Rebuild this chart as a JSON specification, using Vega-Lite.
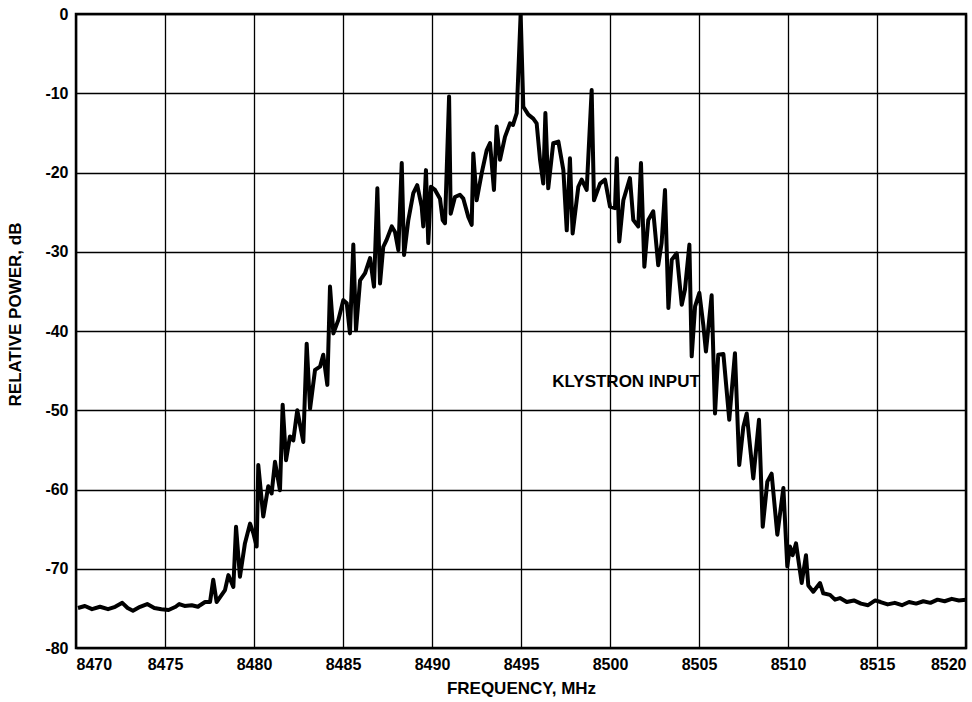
{
  "$schema": "https://vega.github.io/schema/vega-lite/v6.json",
  "width": 890,
  "height": 634,
  "autosize": {"type": "none"},
  "padding": {"left": 76, "top": 14, "right": 6, "bottom": 54},
  "background": "white",
  "config": {
    "view": {"stroke": "black", "strokeWidth": 2.5},
    "font": "Liberation Sans",
    "axis": {
      "grid": true, "gridColor": "black", "gridWidth": 1.3, "gridOpacity": 1,
      "domain": false, "ticks": false,
      "labelFont": "Liberation Sans", "labelFontSize": 16, "labelFontWeight": "bold", "labelColor": "black",
      "titleFont": "Liberation Sans", "titleFontSize": 17, "titleFontWeight": "bold", "titleColor": "black"
    }
  },
  "layer": [
    {
      "data": {"values": [
        {"f": 8470.11, "db": -74.95}, {"f": 8470.5, "db": -74.7}, {"f": 8470.9, "db": -75.1}, {"f": 8471.35, "db": -74.8},
        {"f": 8471.8, "db": -75.1}, {"f": 8472.2, "db": -74.8}, {"f": 8472.6, "db": -74.3}, {"f": 8472.9, "db": -74.95},
        {"f": 8473.2, "db": -75.3}, {"f": 8473.6, "db": -74.8}, {"f": 8474.0, "db": -74.45}, {"f": 8474.4, "db": -74.95},
        {"f": 8474.8, "db": -75.1}, {"f": 8475.2, "db": -75.2}, {"f": 8475.6, "db": -74.8}, {"f": 8475.8, "db": -74.45},
        {"f": 8476.1, "db": -74.7}, {"f": 8476.5, "db": -74.6}, {"f": 8476.85, "db": -74.8}, {"f": 8476.97, "db": -74.6},
        {"f": 8477.25, "db": -74.2}, {"f": 8477.53, "db": -74.2}, {"f": 8477.71, "db": -71.4}, {"f": 8477.9, "db": -74.2},
        {"f": 8478.37, "db": -72.7}, {"f": 8478.56, "db": -70.8}, {"f": 8478.84, "db": -72.3}, {"f": 8478.99, "db": -64.7},
        {"f": 8479.21, "db": -71.0}, {"f": 8479.49, "db": -66.8}, {"f": 8479.78, "db": -64.3}, {"f": 8479.96, "db": -65.5},
        {"f": 8480.15, "db": -67.2}, {"f": 8480.24, "db": -56.9}, {"f": 8480.52, "db": -63.4}, {"f": 8480.8, "db": -59.6},
        {"f": 8480.99, "db": -60.5}, {"f": 8481.18, "db": -56.5}, {"f": 8481.46, "db": -60.1}, {"f": 8481.61, "db": -49.3},
        {"f": 8481.8, "db": -56.3}, {"f": 8482.02, "db": -53.3}, {"f": 8482.21, "db": -53.8}, {"f": 8482.43, "db": -50.0},
        {"f": 8482.77, "db": -54.0}, {"f": 8482.96, "db": -41.6}, {"f": 8483.15, "db": -49.8}, {"f": 8483.43, "db": -44.9},
        {"f": 8483.71, "db": -44.5}, {"f": 8483.89, "db": -43.0}, {"f": 8484.12, "db": -46.8}, {"f": 8484.27, "db": -34.4},
        {"f": 8484.46, "db": -40.3}, {"f": 8484.74, "db": -38.6}, {"f": 8485.02, "db": -36.1}, {"f": 8485.21, "db": -36.5},
        {"f": 8485.39, "db": -40.3}, {"f": 8485.58, "db": -29.1}, {"f": 8485.73, "db": -39.9}, {"f": 8485.96, "db": -33.6},
        {"f": 8486.24, "db": -32.7}, {"f": 8486.52, "db": -30.8}, {"f": 8486.74, "db": -34.4}, {"f": 8486.93, "db": -22.0},
        {"f": 8487.08, "db": -34.0}, {"f": 8487.26, "db": -29.4}, {"f": 8487.45, "db": -28.5}, {"f": 8487.74, "db": -26.8},
        {"f": 8487.92, "db": -27.5}, {"f": 8488.11, "db": -29.8}, {"f": 8488.3, "db": -18.8}, {"f": 8488.43, "db": -30.4},
        {"f": 8488.67, "db": -26.0}, {"f": 8488.95, "db": -22.6}, {"f": 8489.17, "db": -21.6}, {"f": 8489.42, "db": -24.3},
        {"f": 8489.51, "db": -26.8}, {"f": 8489.66, "db": -19.7}, {"f": 8489.79, "db": -28.9}, {"f": 8489.94, "db": -21.8},
        {"f": 8490.17, "db": -22.2}, {"f": 8490.45, "db": -23.3}, {"f": 8490.6, "db": -26.0}, {"f": 8490.73, "db": -26.4},
        {"f": 8490.96, "db": -10.4}, {"f": 8491.05, "db": -25.2}, {"f": 8491.29, "db": -23.1}, {"f": 8491.57, "db": -22.8},
        {"f": 8491.76, "db": -23.3}, {"f": 8492.04, "db": -25.6}, {"f": 8492.23, "db": -26.6}, {"f": 8492.32, "db": -17.6},
        {"f": 8492.51, "db": -23.5}, {"f": 8492.79, "db": -20.1}, {"f": 8493.07, "db": -17.2}, {"f": 8493.26, "db": -16.3},
        {"f": 8493.48, "db": -22.2}, {"f": 8493.63, "db": -14.2}, {"f": 8493.82, "db": -18.4}, {"f": 8494.1, "db": -15.5},
        {"f": 8494.38, "db": -13.8}, {"f": 8494.55, "db": -14.0}, {"f": 8494.76, "db": -12.5}, {"f": 8494.98, "db": 0},
        {"f": 8495.13, "db": -11.7}, {"f": 8495.41, "db": -12.7}, {"f": 8495.69, "db": -13.2}, {"f": 8495.88, "db": -13.8},
        {"f": 8496.07, "db": -18.4}, {"f": 8496.25, "db": -21.4}, {"f": 8496.37, "db": -12.5}, {"f": 8496.53, "db": -22.0},
        {"f": 8496.81, "db": -16.3}, {"f": 8497.1, "db": -16.1}, {"f": 8497.38, "db": -19.7}, {"f": 8497.57, "db": -27.3},
        {"f": 8497.75, "db": -18.2}, {"f": 8497.9, "db": -27.7}, {"f": 8498.22, "db": -21.8}, {"f": 8498.41, "db": -20.9},
        {"f": 8498.69, "db": -22.2}, {"f": 8498.97, "db": -9.6}, {"f": 8499.1, "db": -23.5}, {"f": 8499.44, "db": -21.4},
        {"f": 8499.72, "db": -20.9}, {"f": 8500.0, "db": -24.3}, {"f": 8500.28, "db": -24.5}, {"f": 8500.38, "db": -18.2},
        {"f": 8500.52, "db": -28.7}, {"f": 8500.75, "db": -23.5}, {"f": 8501.12, "db": -20.7}, {"f": 8501.31, "db": -26.0},
        {"f": 8501.59, "db": -26.8}, {"f": 8501.74, "db": -18.8}, {"f": 8501.93, "db": -31.9}, {"f": 8502.15, "db": -26.0},
        {"f": 8502.43, "db": -24.9}, {"f": 8502.71, "db": -31.7}, {"f": 8502.9, "db": -28.9}, {"f": 8503.09, "db": -22.2},
        {"f": 8503.28, "db": -37.1}, {"f": 8503.47, "db": -31.0}, {"f": 8503.75, "db": -30.2}, {"f": 8504.03, "db": -36.7},
        {"f": 8504.21, "db": -34.8}, {"f": 8504.46, "db": -29.1}, {"f": 8504.59, "db": -43.2}, {"f": 8504.78, "db": -36.9},
        {"f": 8505.02, "db": -35.2}, {"f": 8505.24, "db": -39.2}, {"f": 8505.39, "db": -42.6}, {"f": 8505.71, "db": -35.5},
        {"f": 8505.9, "db": -50.4}, {"f": 8506.08, "db": -43.0}, {"f": 8506.37, "db": -42.9}, {"f": 8506.7, "db": -51.2},
        {"f": 8507.02, "db": -42.8}, {"f": 8507.26, "db": -56.9}, {"f": 8507.49, "db": -52.1}, {"f": 8507.68, "db": -50.4},
        {"f": 8508.05, "db": -58.6}, {"f": 8508.37, "db": -51.2}, {"f": 8508.58, "db": -64.7}, {"f": 8508.84, "db": -59.0},
        {"f": 8509.08, "db": -58.0}, {"f": 8509.4, "db": -65.7}, {"f": 8509.74, "db": -59.8}, {"f": 8509.96, "db": -69.7},
        {"f": 8510.11, "db": -67.2}, {"f": 8510.26, "db": -68.3}, {"f": 8510.45, "db": -66.8}, {"f": 8510.77, "db": -71.8},
        {"f": 8511.01, "db": -68.3}, {"f": 8511.14, "db": -72.1}, {"f": 8511.42, "db": -72.9}, {"f": 8511.8, "db": -71.8},
        {"f": 8511.98, "db": -73.1}, {"f": 8512.36, "db": -73.3}, {"f": 8512.64, "db": -73.9}, {"f": 8512.92, "db": -73.7},
        {"f": 8513.3, "db": -74.2}, {"f": 8513.7, "db": -74.0}, {"f": 8514.1, "db": -74.4}, {"f": 8514.5, "db": -74.6},
        {"f": 8514.9, "db": -74.0}, {"f": 8515.2, "db": -74.2}, {"f": 8515.6, "db": -74.5}, {"f": 8516.0, "db": -74.3},
        {"f": 8516.4, "db": -74.6}, {"f": 8516.8, "db": -74.2}, {"f": 8517.2, "db": -74.4}, {"f": 8517.6, "db": -74.1},
        {"f": 8518.0, "db": -74.3}, {"f": 8518.4, "db": -73.9}, {"f": 8518.8, "db": -74.1}, {"f": 8519.2, "db": -73.8},
        {"f": 8519.6, "db": -74.0}, {"f": 8520.0, "db": -73.9}
      ]},
      "mark": {"type": "line", "color": "black", "strokeWidth": 4, "strokeJoin": "round", "clip": true},
      "encoding": {
        "x": {"field": "f", "type": "quantitative",
              "scale": {"domain": [8470, 8520], "nice": false, "zero": false},
              "axis": {"values": [8470, 8475, 8480, 8485, 8490, 8495, 8500, 8505, 8510, 8515, 8520],
                       "format": "d", "labelPadding": 8, "title": "FREQUENCY, MHz", "titleY": 32, "labelFlush": true}},
        "y": {"field": "db", "type": "quantitative",
              "scale": {"domain": [-80, 0], "nice": false, "zero": false},
              "axis": {"values": [-80, -70, -60, -50, -40, -30, -20, -10, 0],
                       "labelExpr": "'' + datum.value",
                       "labelPadding": 8, "title": "RELATIVE POWER, dB", "titleX": -52, "titleY": 300}}
      }
    },
    {
      "data": {"values": [{"f": 8500.9, "db": -46.4, "label": "KLYSTRON INPUT"}]},
      "mark": {"type": "text", "font": "Liberation Sans", "fontSize": 17, "fontWeight": "bold", "color": "black", "align": "center", "baseline": "middle"},
      "encoding": {
        "x": {"field": "f", "type": "quantitative"},
        "y": {"field": "db", "type": "quantitative"},
        "text": {"field": "label", "type": "nominal"}
      }
    }
  ]
}
